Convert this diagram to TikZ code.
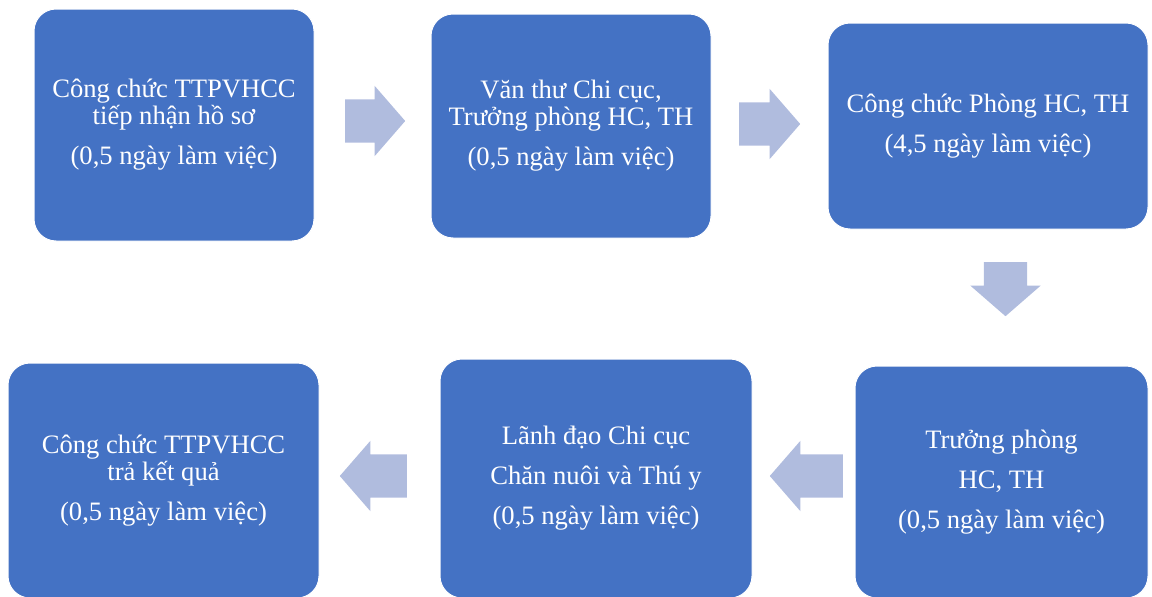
\documentclass[tikz,border=0pt]{standalone}
\usepackage{fontspec}
\setmainfont{Liberation Serif}
\usepackage{tikz}
\usetikzlibrary{shapes.arrows,positioning}
\definecolor{boxblue}{RGB}{68,114,196}
\definecolor{arrowblue}{RGB}{176,188,222}
\tikzset{
    %Define style for process boxes
    procbox/.style={
           rectangle,
           rounded corners=22pt,
           draw=white, line width=1pt,
           fill=boxblue,
           text=white,
           font=\fontsize{26.6}{40}\selectfont,
           align=center,
           inner sep=0pt},
    %Define style for block arrows
    blockarrow/.style={
           single arrow,
           draw=none,
           fill=arrowblue,
           inner xsep=0pt,
           inner ysep=21.5pt,
           minimum width=70pt,
           single arrow head extend=13.5pt,
           single arrow tip angle=98,
           anchor=tail}
}
\begin{document}
\begin{tikzpicture}[x=1pt,y=-1pt]
\useasboundingbox (0,0) rectangle (1152,597);
 %boxes
\node[procbox, minimum width=280pt, minimum height=232pt] (1) at (174,125)
    {Công chức TTPVHCC\\[-13pt] tiếp nhận hồ sơ\\ (0,5 ngày làm việc)};
\node[procbox, minimum width=280pt, minimum height=224pt] (2) at (571,126)
    {Văn thư Chi cục,\\[-13pt] Trưởng phòng HC, TH\\ (0,5 ngày làm việc)};
\node[procbox, minimum width=320pt, minimum height=206pt] (3) at (988,126)
    {Công chức Phòng HC, TH\\ (4,5 ngày làm việc)};
\node[procbox, minimum width=293pt, minimum height=232pt] (4) at (1001.5,482)
    {Trưởng phòng\\ HC, TH\\ (0,5 ngày làm việc)};
\node[procbox, minimum width=312pt, minimum height=239pt] (5) at (596,478.5)
    {Lãnh đạo Chi cục\\ Chăn nuôi và Thú y\\ (0,5 ngày làm việc)};
\node[procbox, minimum width=311pt, minimum height=235pt] (6) at (163.5,480.5)
    {Công chức TTPVHCC\\[-13pt] trả kết quả\\ (0,5 ngày làm việc)};
 %arrows
\node[blockarrow, minimum height=60pt] (a1) at (345,121) {};
\node[blockarrow, minimum height=61pt] (a2) at (739,124) {};
\node[blockarrow, minimum height=54pt, rotate=-90] (a3) at (1005.5,262) {};
\node[blockarrow, minimum height=73pt, rotate=180] (a4) at (843,476) {};
\node[blockarrow, minimum height=67pt, rotate=180] (a5) at (407,476) {};
\end{tikzpicture}
\end{document}
